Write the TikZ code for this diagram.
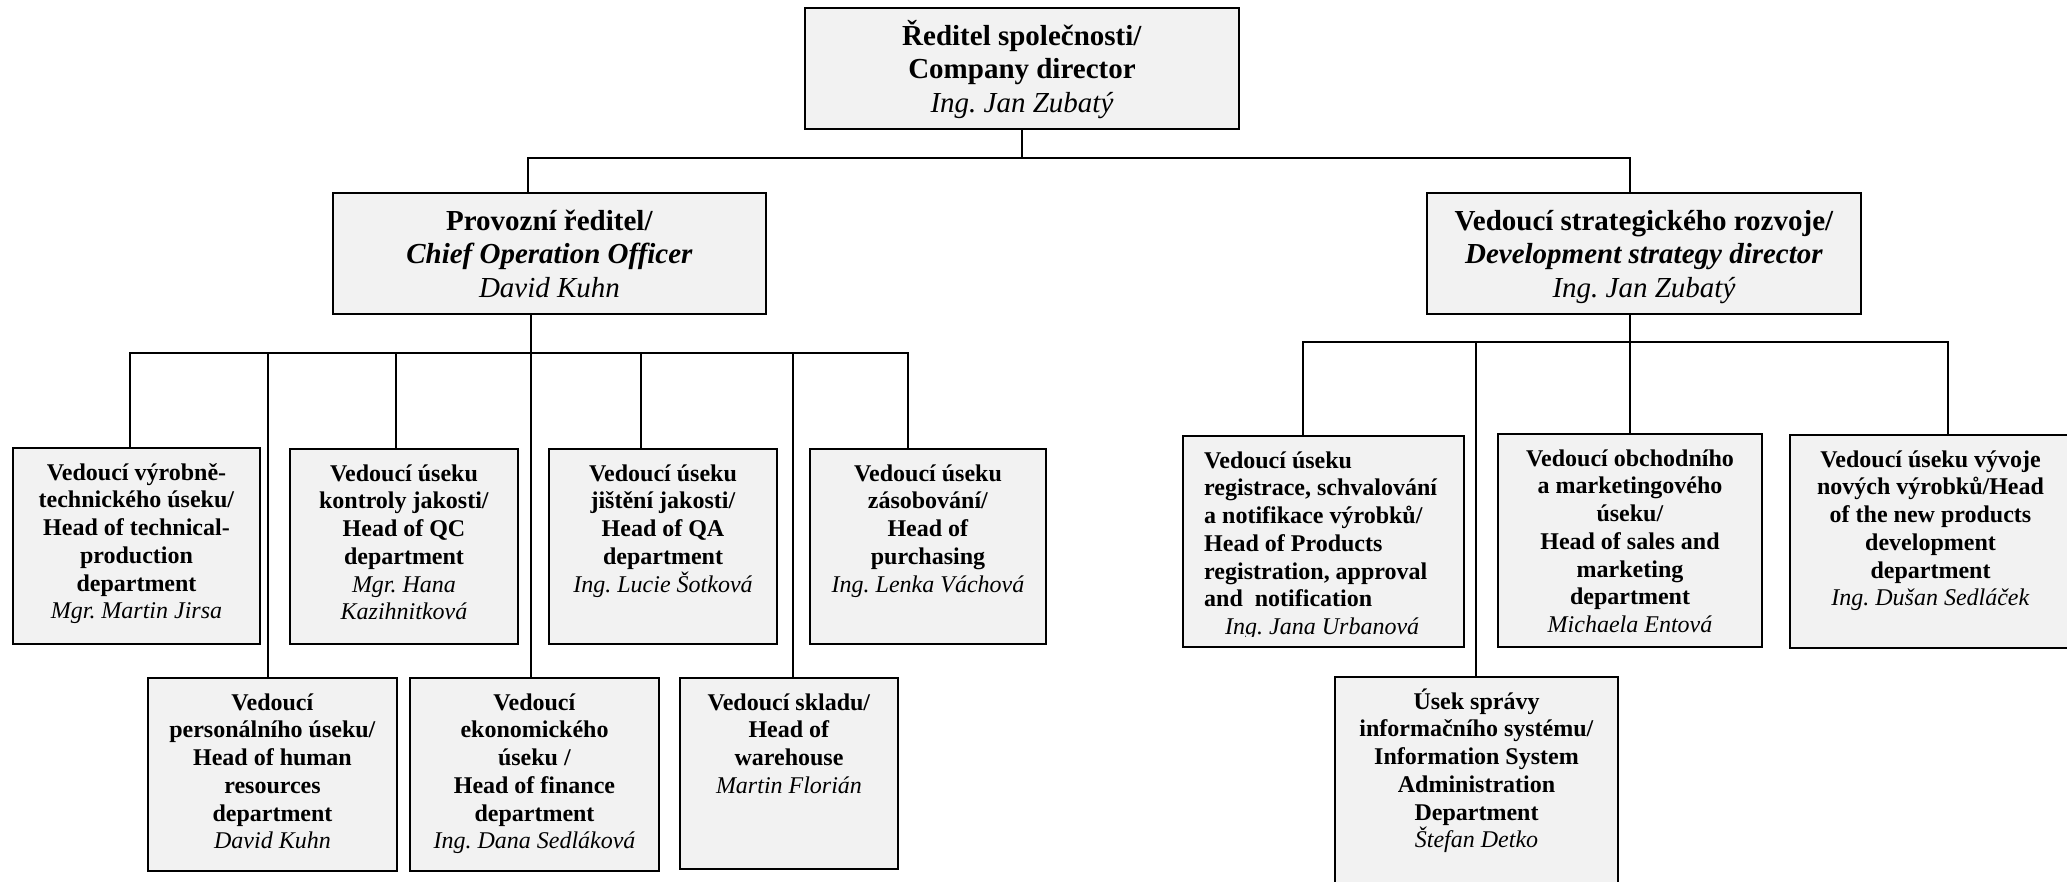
\documentclass[tikz,border=0pt]{standalone}
\usepackage{fontspec}
\setmainfont{Liberation Serif}
\frenchspacing
\definecolor{boxfill}{HTML}{F2F2F2}
\newcommand\obox[5]{\node[orgbox, anchor=north west, minimum width={#4-#2}, minimum height={#5-#3}] (#1) at (#2,#3) {};}
\begin{document}
\begin{tikzpicture}[x=1pt,y=-1pt,
  orgbox/.style={draw, line width=2pt, fill=boxfill, inner sep=0pt, rectangle},
  conn/.style={line width=1.6pt, line cap=rect},
  toptxt/.style={font=\fontsize{29}{33.5}\selectfont, align=center, inner sep=0pt, anchor=north},
  lowtxt/.style={font=\fontsize{24}{27.7}\selectfont, align=center, inner sep=0pt, anchor=north},
  lefttxt/.style={font=\fontsize{24}{27.7}\selectfont, align=left, inner sep=0pt, anchor=north west}]
\useasboundingbox (0,0) rectangle (2067,881);
\clip (0,0) rectangle (2067,881);
\fill[white] (0,0) rectangle (2067,881);

% boxes
\obox{top}{804}{7}{1238}{128}
\obox{prov}{332}{192}{765}{313}
\obox{strat}{1426}{192}{1860}{313}
\obox{L1}{12}{447}{259}{643}
\obox{L2}{289}{448}{517}{643}
\obox{L3}{548}{448}{776}{643}
\obox{L4}{809}{448}{1045}{643}
\obox{M1}{147}{677}{396}{870}
\obox{M2}{409}{677}{658}{870}
\obox{M3}{679}{677}{897}{868}
\obox{R1}{1182}{435}{1463}{646}
\obox{R2}{1497}{433}{1761}{646}
\obox{R3}{1789}{434}{2070}{647}
\obox{IS}{1334}{676}{1617}{900}

% texts
\node[toptxt] at ([yshift=-11pt]top.north) {\rule{0pt}{27pt}\textbf{Ředitel společnosti/}\\\textbf{Company director}\\\textit{Ing. Jan Zubatý}};
\node[toptxt] at ([yshift=-11pt]prov.north) {\rule{0pt}{27pt}\textbf{Provozní ředitel/}\\\textbf{\textit{Chief Operation Officer}}\\\textit{David Kuhn}};
\node[toptxt] at ([yshift=-11pt]strat.north) {\rule{0pt}{27pt}\textbf{Vedoucí strategického rozvoje/}\\\textbf{\textit{Development strategy director}}\\\textit{Ing. Jan Zubatý}};

\node[lowtxt] at ([yshift=-11pt]L1.north) {\rule{0pt}{22pt}\textbf{Vedoucí výrobně-}\\\textbf{technického úseku/}\\\textbf{Head of technical-}\\\textbf{production}\\\textbf{department}\\\textit{Mgr. Martin Jirsa}};
\node[lowtxt] at ([yshift=-11pt]L2.north) {\rule{0pt}{22pt}\textbf{Vedoucí úseku}\\\textbf{kontroly jakosti/}\\\textbf{Head of QC}\\\textbf{department}\\\textit{Mgr. Hana}\\\textit{Kazihnitková}};
\node[lowtxt] at ([yshift=-11pt]L3.north) {\rule{0pt}{22pt}\textbf{Vedoucí úseku}\\\textbf{jištění jakosti/}\\\textbf{Head of QA}\\\textbf{department}\\\textit{Ing. Lucie Šotková}};
\node[lowtxt] at ([yshift=-11pt]L4.north) {\rule{0pt}{22pt}\textbf{Vedoucí úseku}\\\textbf{zásobování/}\\\textbf{Head of}\\\textbf{purchasing}\\\textit{Ing. Lenka Váchová}};
\node[lowtxt] at ([yshift=-11pt]M1.north) {\rule{0pt}{22pt}\textbf{Vedoucí}\\\textbf{personálního úseku/}\\\textbf{Head of human}\\\textbf{resources}\\\textbf{department}\\\textit{David Kuhn}};
\node[lowtxt] at ([yshift=-11pt]M2.north) {\rule{0pt}{22pt}\textbf{Vedoucí}\\\textbf{ekonomického}\\\textbf{úseku /}\\\textbf{Head of finance}\\\textbf{department}\\\textit{Ing. Dana Sedláková}};
\node[lowtxt] at ([yshift=-11pt]M3.north) {\rule{0pt}{22pt}\textbf{Vedoucí skladu/}\\\textbf{Head of}\\\textbf{warehouse}\\\textit{Martin Florián}};
\begin{scope}
\clip (1182,435) rectangle (1463,636);
\node[lefttxt] at (1204,446) {\rule{0pt}{22pt}\textbf{Vedoucí úseku}\\\textbf{registrace, schvalování}\\\textbf{a notifikace výrobků/}\\\textbf{Head of Products}\\\textbf{registration, approval}\\\textbf{and\ \ notification}\\\hspace*{21pt}\textit{Ing. Jana Urbanová}};
\end{scope}
\node[lowtxt] at ([yshift=-11pt]R2.north) {\rule{0pt}{22pt}\textbf{Vedoucí obchodního}\\\textbf{a marketingového}\\\textbf{úseku/}\\\textbf{Head of sales and}\\\textbf{marketing}\\\textbf{department}\\\textit{Michaela Entová}};
\node[lowtxt] at ([yshift=-11pt]R3.north) {\rule{0pt}{22pt}\textbf{Vedoucí úseku vývoje}\\\textbf{nových výrobků/Head}\\\textbf{of the new products}\\\textbf{development}\\\textbf{department}\\\textit{Ing. Dušan Sedláček}};
\node[lowtxt] at ([yshift=-11pt]IS.north) {\rule{0pt}{22pt}\textbf{Úsek správy}\\\textbf{informačního systému/}\\\textbf{Information System}\\\textbf{Administration}\\\textbf{Department}\\\textit{Štefan Detko}};

% bus levels
\coordinate (bus0) at (1021,158);
\coordinate (busL) at (531,353);
\coordinate (busR) at (1630,342);

% connectors level 0
\draw[conn] (top.south) -- (top.south |- bus0);
\draw[conn] (528,0 |- prov.north) -- (528,0 |- bus0) -- (1630,0 |- bus0) -- (1630,0 |- strat.north);

% left group
\draw[conn] (531,0 |- prov.south) -- (531,0 |- M2.north);
\draw[conn] (130,0 |- L1.north) -- (130,0 |- busL) -- (908,0 |- busL) -- (908,0 |- L4.north);
\draw[conn] (268,0 |- busL) -- (268,0 |- M1.north);
\draw[conn] (396,0 |- busL) -- (396,0 |- L2.north);
\draw[conn] (641,0 |- busL) -- (641,0 |- L3.north);
\draw[conn] (793,0 |- busL) -- (793,0 |- M3.north);

% right group
\draw[conn] (1630,0 |- strat.south) -- (1630,0 |- R2.north);
\draw[conn] (1303,0 |- R1.north) -- (1303,0 |- busR) -- (1948,0 |- busR) -- (1948,0 |- R3.north);
\draw[conn] (1476,0 |- busR) -- (1476,0 |- IS.north);
\end{tikzpicture}
\end{document}
